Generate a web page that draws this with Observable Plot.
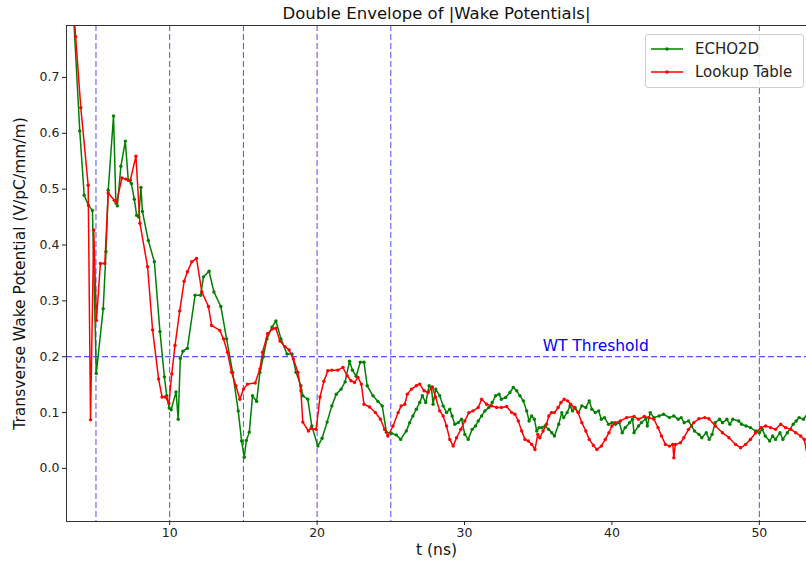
<!DOCTYPE html>
<html><head><meta charset="utf-8">
<script src="https://cdn.jsdelivr.net/npm/d3@7"></script>
<script src="https://cdn.jsdelivr.net/npm/@observablehq/plot@0.6"></script>
<style>
body{margin:0;background:#fff;font-family:"DejaVu Sans",sans-serif}
#wrap{position:relative;width:806px;height:568px;overflow:hidden}
#legend{position:absolute;left:645px;top:34px;width:157px;height:52px;border:1px solid #d0d0d0;border-radius:3px;background:rgba(255,255,255,0.85);font-size:15px;color:#222}
.row{position:absolute;left:5px;height:20px;display:flex;align-items:center}
.row span{margin-left:12px}
</style>
</head><body><div id="wrap"><div id="legend"></div></div>
<script>
const titleText = "Double Envelope of |Wake Potentials|";
const xLabel = "t (ns)";
const yLabel = "Transverse Wake Potential (V/pC/mm/m)";
const seriesNames = ["ECHO2D", "Lookup Table"];
const xTicks = [10, 20, 30, 40, 50];
const yTicks = [0, 0.1, 0.2, 0.3, 0.4, 0.5, 0.6, 0.7];
const vLines = [5, 10, 15, 20, 25, 50];
const threshold = 0.2;
const thresholdLabel = "WT Threshold";
const thresholdLabelPos = [35.3, 0.21];

const echoT = [3.4,3.9,4.2,4.49,4.76,5.02,5.49,5.68,5.83,6.19,6.35,6.45,6.69,6.99,7.19,7.4,7.6,7.76,7.9,8.05,8.15,8.55,8.96,9.34,9.64,9.8,9.97,10.1,10.43,10.58,10.72,10.9,11.2,11.72,12.1,12.29,12.67,13.0,13.47,13.86,14.27,14.65,14.88,15.06,15.2,15.4,15.62,15.9,16.12,16.35,16.6,16.94,17.21,17.55,17.96,18.3,18.57,18.9,19.03,19.37,19.64,20.05,20.34,20.68,21.0,21.3,21.63,21.9,22.2,22.4,22.65,22.93,23.18,23.4,23.79,24.13,24.42,24.7,25.03,25.37,25.67,26.05,26.28,26.5,26.73,26.96,27.14,27.37,27.6,27.75,27.87,28.05,28.32,28.55,28.78,29.0,29.16,29.34,29.57,29.8,30.02,30.25,30.52,30.75,30.93,31.16,31.38,31.65,31.88,32.11,32.34,32.5,32.79,33.08,33.31,33.54,33.76,33.99,34.22,34.38,34.56,34.74,34.9,35.06,35.24,35.47,35.7,35.92,36.1,36.39,36.6,36.73,36.96,37.16,37.33,37.5,37.73,37.96,38.23,38.46,38.64,38.87,39.1,39.28,39.5,39.77,40.0,40.25,40.5,40.7,40.9,41.2,41.4,41.5,41.8,42.0,42.3,42.4,42.6,42.85,43.2,43.5,43.9,44.2,44.5,44.7,44.9,45.2,45.4,45.6,45.9,46.1,46.4,46.6,46.8,47.0,47.3,47.5,47.8,48.0,48.2,48.6,48.8,49.1,49.4,49.75,50.0,50.2,50.4,50.7,50.9,51.1,51.4,51.6,51.9,52.3,52.5,52.7,53.0,53.3];
const echoV = [0.85,0.604,0.489,0.471,0.462,0.17,0.286,0.388,0.498,0.631,0.475,0.47,0.541,0.586,0.516,0.51,0.482,0.453,0.45,0.503,0.46,0.408,0.37,0.245,0.164,0.13,0.108,0.105,0.137,0.088,0.197,0.21,0.215,0.31,0.31,0.343,0.353,0.316,0.29,0.232,0.172,0.103,0.049,0.02,0.05,0.065,0.13,0.12,0.172,0.2,0.232,0.253,0.264,0.232,0.205,0.205,0.172,0.148,0.13,0.124,0.076,0.04,0.054,0.083,0.112,0.133,0.142,0.155,0.192,0.176,0.165,0.19,0.19,0.148,0.13,0.12,0.112,0.065,0.063,0.06,0.052,0.067,0.082,0.094,0.106,0.118,0.13,0.118,0.148,0.145,0.115,0.142,0.13,0.112,0.1,0.106,0.094,0.079,0.082,0.088,0.061,0.052,0.07,0.076,0.085,0.094,0.103,0.109,0.118,0.13,0.133,0.124,0.127,0.136,0.145,0.139,0.13,0.121,0.103,0.085,0.094,0.088,0.067,0.073,0.073,0.076,0.07,0.064,0.058,0.079,0.1,0.091,0.1,0.112,0.103,0.109,0.1,0.112,0.109,0.121,0.106,0.1,0.103,0.088,0.091,0.079,0.082,0.079,0.082,0.064,0.073,0.082,0.088,0.064,0.076,0.082,0.089,0.076,0.1,0.091,0.094,0.097,0.091,0.094,0.088,0.091,0.082,0.085,0.076,0.067,0.061,0.055,0.064,0.052,0.061,0.082,0.088,0.082,0.088,0.079,0.088,0.085,0.079,0.076,0.073,0.067,0.064,0.07,0.058,0.049,0.058,0.052,0.064,0.052,0.064,0.079,0.085,0.091,0.088,0.1];

const lutT = [3.45,3.62,3.97,4.47,4.63,4.85,5.03,5.3,5.6,5.83,6.24,6.4,6.76,7.03,7.33,7.71,7.98,8.5,8.84,9.25,9.48,9.7,9.95,10.14,10.36,10.68,10.98,11.2,11.5,11.82,12.18,12.63,12.84,13.4,13.65,13.92,14.2,14.49,14.76,15.01,15.28,15.8,16.12,16.3,16.64,16.98,17.2,17.48,17.82,18.1,18.39,18.7,18.9,19.03,19.41,19.6,19.93,20.2,20.46,20.73,21.0,21.4,21.75,22.04,22.3,22.54,22.77,23.0,23.18,23.56,23.95,24.3,24.58,24.8,25.15,25.5,25.7,25.95,26.12,26.4,26.73,26.96,27.26,27.53,27.82,28.03,28.32,28.55,28.78,29.0,29.23,29.46,29.75,30.02,30.3,30.57,30.93,31.16,31.5,31.84,32.18,32.5,32.86,33.2,33.42,33.65,33.88,34.1,34.33,34.56,34.78,34.97,35.11,35.33,35.56,35.72,35.9,36.1,36.35,36.54,36.76,36.99,37.2,37.44,37.7,37.96,38.23,38.46,38.75,38.98,39.28,39.55,39.8,40.0,40.2,40.57,41.0,41.5,41.8,42.2,42.5,42.85,43.13,43.36,43.63,43.9,44.13,44.2,44.3,44.65,44.88,45.2,45.55,45.9,46.3,46.58,47.03,47.5,47.94,48.39,48.73,49.07,49.4,49.75,50.1,50.43,50.77,51.1,51.45,51.78,52.13,52.47,52.8,53.05,53.27];
const lutV = [0.83,0.773,0.646,0.507,0.087,0.427,0.265,0.367,0.367,0.493,0.48,0.477,0.52,0.518,0.516,0.559,0.439,0.361,0.248,0.16,0.128,0.128,0.117,0.169,0.22,0.282,0.335,0.352,0.37,0.376,0.316,0.29,0.256,0.247,0.232,0.208,0.172,0.148,0.124,0.142,0.151,0.153,0.178,0.208,0.241,0.25,0.251,0.228,0.218,0.212,0.196,0.172,0.139,0.083,0.067,0.072,0.07,0.128,0.156,0.175,0.176,0.176,0.181,0.166,0.157,0.154,0.163,0.151,0.115,0.11,0.1,0.088,0.07,0.058,0.076,0.1,0.112,0.115,0.133,0.142,0.148,0.151,0.139,0.136,0.146,0.128,0.103,0.094,0.076,0.052,0.04,0.055,0.07,0.085,0.1,0.103,0.109,0.124,0.115,0.112,0.109,0.109,0.111,0.1,0.097,0.085,0.067,0.052,0.049,0.043,0.034,0.061,0.055,0.067,0.079,0.094,0.1,0.1,0.109,0.118,0.124,0.121,0.115,0.109,0.1,0.082,0.067,0.052,0.041,0.034,0.04,0.052,0.064,0.076,0.082,0.085,0.091,0.093,0.088,0.093,0.091,0.088,0.073,0.058,0.043,0.04,0.043,0.019,0.043,0.046,0.055,0.07,0.082,0.089,0.091,0.089,0.076,0.064,0.055,0.043,0.037,0.043,0.052,0.064,0.073,0.076,0.073,0.07,0.079,0.073,0.07,0.064,0.058,0.052,0.022];

const colors = ["#008000", "#ff0000"];
const echo = echoT.map((t, i) => ({t, v: echoV[i]}));
const lut = lutT.map((t, i) => ({t, v: lutV[i]}));

const chart = Plot.plot({
  width: 806, height: 568,
  marginLeft: 66, marginRight: 0, marginTop: 25, marginBottom: 47,
  style: {fontFamily: "DejaVu Sans, sans-serif", fontSize: "12px", background: "#fff", color: "#222"},
  x: {domain: [3.0, 53.2]},
  y: {domain: [-0.095, 0.793]},
  marks: [
    Plot.ruleX(vLines, {stroke: "#0000ff", strokeOpacity: 0.7, strokeDasharray: "6,3", strokeWidth: 1}),
    Plot.ruleY([threshold], {stroke: "#0000ff", strokeOpacity: 0.85, strokeDasharray: "6,3", strokeWidth: 1}),
    Plot.line(echo, {x: "t", y: "v", stroke: colors[0], strokeWidth: 1.5, clip: true}),
    Plot.dot(echo, {x: "t", y: "v", fill: colors[0], r: 1.7, clip: true}),
    Plot.line(lut, {x: "t", y: "v", stroke: colors[1], strokeWidth: 1.5, clip: true}),
    Plot.dot(lut, {x: "t", y: "v", fill: colors[1], r: 1.7, clip: true}),
    Plot.text([thresholdLabel], {x: thresholdLabelPos[0], y: thresholdLabelPos[1], text: d => d, fill: "#0000ff", fontSize: 15.5, textAnchor: "start", lineAnchor: "bottom"}),
    Plot.frame({stroke: "#333", strokeWidth: 1}),
    Plot.axisX({ticks: xTicks, tickSize: 4, tickPadding: 3, label: null, fontSize: 12.5}),
    Plot.axisY({ticks: yTicks, tickSize: 4, tickPadding: 3, tickFormat: d3.format(".1f"), label: null, fontSize: 12.5}),
    Plot.text([titleText], {frameAnchor: "top", dy: -12, text: d => d, fontSize: 16.5, fill: "#111", textAnchor: "middle", lineAnchor: "middle"}),
    Plot.text([xLabel], {frameAnchor: "bottom", dy: 29, text: d => d, fontSize: 15.5, fill: "#111", textAnchor: "middle", lineAnchor: "middle"}),
    Plot.text([yLabel], {frameAnchor: "left", dx: -46, rotate: -90, text: d => d, fontSize: 15.5, fill: "#111", textAnchor: "middle", lineAnchor: "middle"})
  ]
});
const wrap = document.getElementById("wrap");
wrap.insertBefore(chart, wrap.firstChild);

const legend = document.getElementById("legend");
seriesNames.forEach((name, i) => {
  const row = document.createElement("div");
  row.className = "row";
  row.style.top = (4 + i * 22.5) + "px";
  row.innerHTML = `<svg width="32" height="10"><line x1="0" y1="5" x2="32" y2="5" stroke="${colors[i]}" stroke-width="1.5"/><circle cx="16" cy="5" r="1.7" fill="${colors[i]}"/></svg><span>${name}</span>`;
  legend.appendChild(row);
});
</script>
</body></html>
